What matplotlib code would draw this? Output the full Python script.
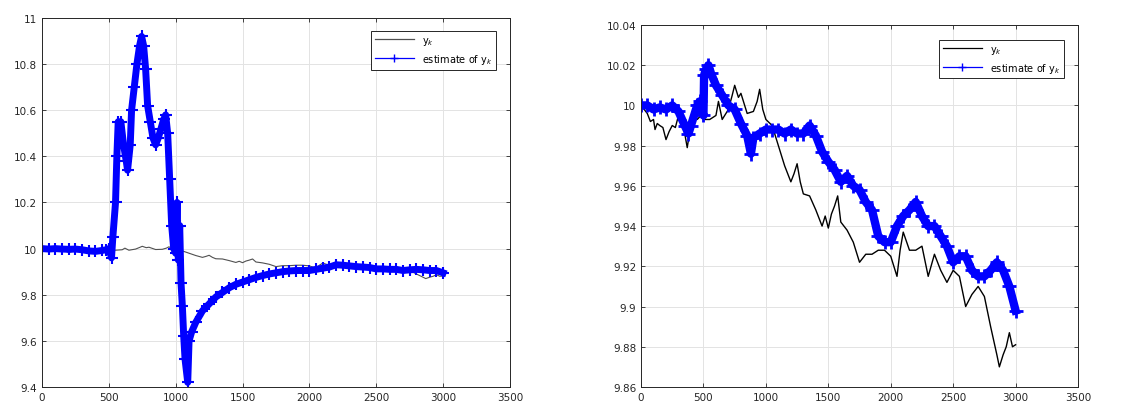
import matplotlib
matplotlib.use("Agg")
import matplotlib.pyplot as plt
from matplotlib.ticker import MultipleLocator, FuncFormatter

# true output y_k (same series on both panels)
yk_k = [0, 25, 50, 75, 100, 112, 130, 150, 175, 200, 225, 250, 275, 300, 325, 350, 370, 385, 400, 430,
        450, 480, 500, 550, 600, 620, 650, 700, 730, 750, 780, 800, 850, 900, 930, 950, 975, 1000, 1050, 1100,
        1150, 1200, 1225, 1250, 1275, 1300, 1350, 1400, 1450, 1475, 1500, 1525, 1550, 1575, 1600, 1650, 1700,
        1750, 1800, 1850, 1900, 1950, 2000, 2050, 2075, 2100, 2150, 2200, 2250, 2300, 2350, 2400, 2450, 2500,
        2550, 2600, 2650, 2700, 2750, 2800, 2850, 2870, 2900, 2925, 2950, 2975, 3000]
yk_val = [10.000, 9.998, 9.996, 9.992, 9.993, 9.988, 9.991, 9.990, 9.989, 9.983, 9.987, 9.990, 9.989, 9.995,
          9.992, 9.986, 9.979, 9.985, 9.990, 9.996, 9.993, 9.995, 9.993, 9.993, 9.995, 10.002, 9.993, 9.998,
          10.005, 10.010, 10.004, 10.006, 9.996, 9.997, 10.002, 10.008, 9.998, 9.993, 9.990, 9.980, 9.970,
          9.962, 9.966, 9.971, 9.962, 9.956, 9.955, 9.948, 9.940, 9.945, 9.939, 9.946, 9.950, 9.955, 9.942,
          9.938, 9.932, 9.922, 9.926, 9.926, 9.928, 9.928, 9.925, 9.915, 9.928, 9.937, 9.928, 9.928, 9.930,
          9.915, 9.926, 9.918, 9.912, 9.918, 9.915, 9.900, 9.906, 9.910, 9.905, 9.890, 9.876, 9.870, 9.876,
          9.880, 9.887, 9.880, 9.881]

# estimate of y_k, left panel
est1_k = [0, 50, 100, 150, 200, 250, 300, 350, 400, 450, 480, 500, 520, 530, 550, 560, 570, 590, 610, 630,
          640, 660, 670, 690, 710, 730, 745, 760, 775, 790, 810, 830, 850, 870, 890, 910, 925, 940, 955, 970,
          985, 1000, 1010, 1020, 1030, 1040, 1050, 1060, 1070, 1090, 1100, 1120, 1150, 1200, 1250, 1300, 1350,
          1400, 1450, 1500, 1550, 1600, 1650, 1700, 1750, 1800, 1850, 1900, 1950, 2000, 2050, 2100, 2150, 2200,
          2250, 2300, 2350, 2400, 2450, 2500, 2550, 2600, 2650, 2700, 2750, 2800, 2850, 2900, 2950, 3000]
est1_val = [10.0, 9.998, 10.0, 9.998, 9.997, 9.998, 9.995, 9.990, 9.988, 9.992, 9.995, 10.0, 9.96, 10.05,
            10.2, 10.4, 10.55, 10.55, 10.45, 10.38, 10.34, 10.45, 10.6, 10.7, 10.8, 10.88, 10.92, 10.88, 10.78,
            10.62, 10.55, 10.48, 10.45, 10.48, 10.52, 10.56, 10.58, 10.5, 10.3, 10.1, 10.0, 9.98, 10.2, 9.95,
            10.1, 9.85, 9.75, 9.62, 9.52, 9.42, 9.6, 9.64, 9.68, 9.73, 9.76, 9.79, 9.81, 9.83, 9.845, 9.855,
            9.865, 9.875, 9.883, 9.89, 9.895, 9.9, 9.903, 9.905, 9.905, 9.905, 9.91, 9.915, 9.92, 9.93, 9.928,
            9.925, 9.922, 9.92, 9.918, 9.912, 9.912, 9.91, 9.91, 9.905, 9.908, 9.91, 9.908, 9.905, 9.905, 9.895]

# estimate of y_k, right panel
est2_k = [0, 50, 100, 150, 200, 250, 300, 350, 380, 400, 450, 470, 500, 505, 520, 540, 560, 600, 650, 700,
          750, 800, 850, 880, 900, 950, 1000, 1050, 1100, 1150, 1200, 1250, 1300, 1350, 1400, 1450, 1500, 1550,
          1600, 1650, 1700, 1750, 1800, 1850, 1900, 1950, 2000, 2050, 2100, 2150, 2200, 2250, 2300, 2350, 2400,
          2450, 2500, 2550, 2600, 2650, 2700, 2750, 2800, 2850, 2900, 2950, 3000]
est2_val = [10.000, 10.000, 9.998, 9.999, 9.998, 10.000, 9.997, 9.990, 9.986, 9.990, 10.000, 10.002, 9.995,
            10.015, 10.018, 10.020, 10.016, 10.010, 10.005, 10.000, 9.998, 9.991, 9.985, 9.976, 9.984, 9.986,
            9.988, 9.988, 9.988, 9.986, 9.988, 9.986, 9.986, 9.990, 9.985, 9.977, 9.972, 9.968, 9.962, 9.965,
            9.960, 9.958, 9.952, 9.948, 9.935, 9.932, 9.932, 9.940, 9.945, 9.948, 9.952, 9.945, 9.940, 9.940,
            9.935, 9.930, 9.922, 9.925, 9.925, 9.918, 9.915, 9.915, 9.918, 9.922, 9.918, 9.910, 9.898]

legend_labels = ["y$_k$", "estimate of y$_k$"]


def fmt(v, pos):
    return "%g" % round(v, 4)


def style_axes(ax, ylim, ystep):
    ax.set_xlim(0, 3500)
    ax.set_ylim(*ylim)
    ax.xaxis.set_major_locator(MultipleLocator(500))
    ax.yaxis.set_major_locator(MultipleLocator(ystep))
    ax.yaxis.set_major_formatter(FuncFormatter(fmt))
    ax.grid(True, color="#e3e3e3", lw=0.7)
    ax.set_axisbelow(True)
    ax.tick_params(direction="in", top=True, right=True, labelsize=7.5,
                   colors="#262626", length=3, width=0.6)
    for s in ax.spines.values():
        s.set_color("#262626")
        s.set_linewidth(0.7)


fig = plt.figure(figsize=(11.38, 4.10), dpi=100)
ax1 = fig.add_axes([0.0369, 0.0537, 0.4112, 0.9])
ax2 = fig.add_axes([0.5633, 0.0537, 0.3840, 0.883])

ax1.plot(yk_k, yk_val, color="#505050", lw=0.8, label=legend_labels[0])
ax1.plot(est1_k, est1_val, "-+", color="blue", lw=5, ms=9, mew=1.5,
         solid_joinstyle="round", label=legend_labels[1])
style_axes(ax1, (9.4, 11), 0.2)

ax2.plot(yk_k, yk_val, color="black", lw=1.0, label=legend_labels[0])
ax2.plot(est2_k, est2_val, "-+", color="blue", lw=6, ms=10, mew=2,
         solid_joinstyle="round", label=legend_labels[1])
style_axes(ax2, (9.86, 10.04), 0.02)

for ax, anchor in ((ax1, (0.970, 0.965)), (ax2, (0.968, 0.959))):
    h, l = ax.get_legend_handles_labels()
    leg = ax.legend(h, l, loc="upper right", bbox_to_anchor=anchor, borderaxespad=0,
                    fontsize=7, fancybox=False, framealpha=1, edgecolor="#262626",
                    handlelength=4, numpoints=1)
    leg.get_frame().set_linewidth(0.7)
    for line in leg.get_lines():
        line.set_linewidth(0.9)
        line.set_markersize(6)
        line.set_markeredgewidth(1)

fig.savefig("out.png", dpi=100)
